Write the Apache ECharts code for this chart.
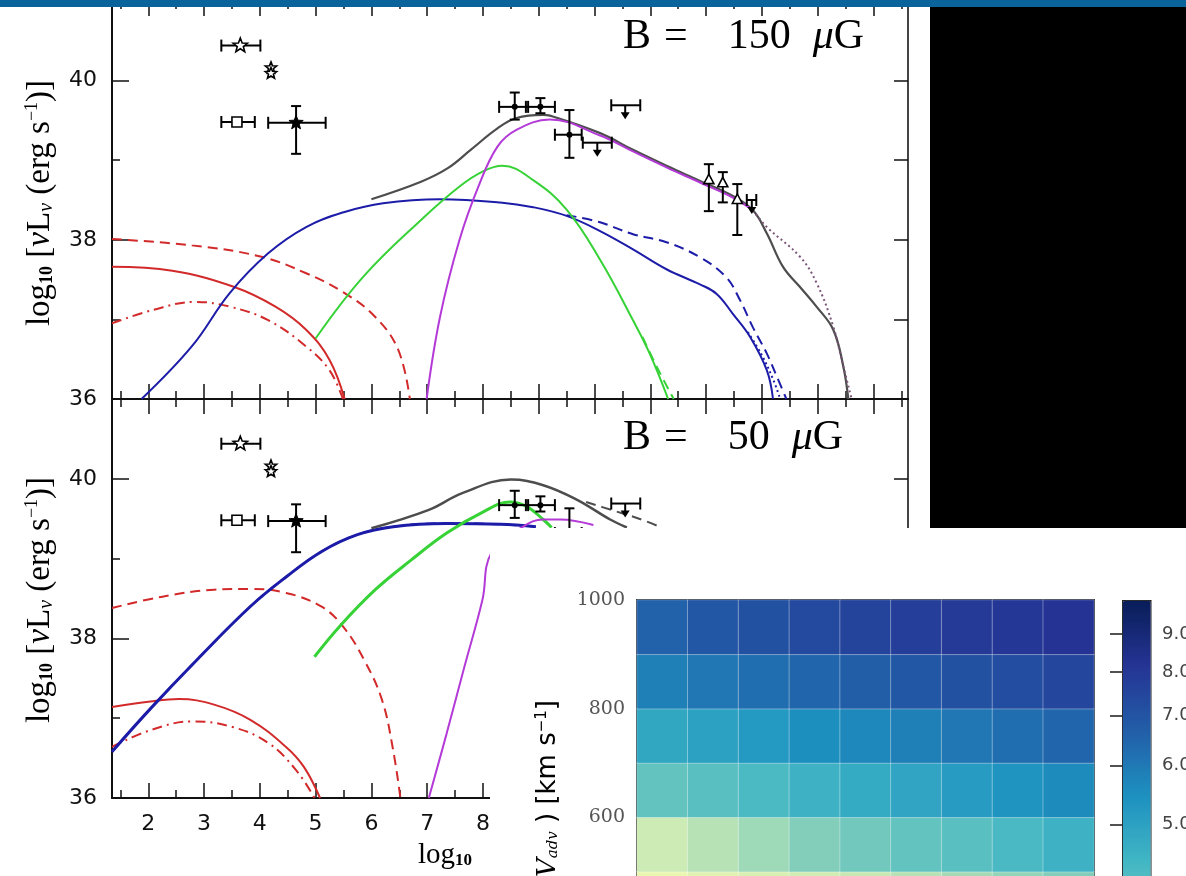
<!DOCTYPE html>
<html><head><meta charset="utf-8">
<script src="https://cdn.jsdelivr.net/npm/echarts@6/dist/echarts.min.js"></script>
<style>
html,body{margin:0;padding:0;width:1186px;height:876px;overflow:hidden;background:#fff}
#wrap{position:relative;width:1186px;height:876px;overflow:hidden}
#main{position:absolute;left:0;top:0;width:1186px;height:876px}
#inset{position:absolute;left:490px;top:528px;width:696px;height:620px;background:#fff}
</style></head><body>
<div id="wrap"><div id="main"></div><div id="inset"></div></div>
<script>
// ---------------- axis data ----------------
const XMIN = 1.35, XMAX = 15.62;
const XMAJOR = [2,3,4,5,6,7,8,9,10,11,12,13,14,15];
const XMINOR = [1.5,2.5,3.5,4.5,5.5,6.5,7.5,8.5,9.5,10.5,11.5,12.5,13.5,14.5,15.5];
const XLABELS = [2,3,4,5,6,7,8,9,10,11,12,13,14,15];
const YMIN = 36, YMAX = 41;
const YMAJOR = [36,38,40];
const YMINOR = [37,39];

// ---------------- observed points (same in both panels) ----------------
const ptX   = [3.65, 4.20, 4.20, 3.59, 4.65, 8.57, 9.03, 9.55, 10.05, 10.55, 12.05, 12.30, 12.56, 12.82];
const ptY   = [40.44,40.16,40.09,39.48,39.47,39.67,39.67,39.32,39.22, 39.69, 38.75, 38.71, 38.50, 38.50];
const ptXlo = [3.31, null, null, 3.31, 4.15, 8.29, 8.77, 9.29, 9.79, 10.30, null, null, null, 12.73];
const ptXhi = [4.01, null, null, 3.91, 5.18, 8.81, 9.29, 9.77, 10.31, 10.82, null, null, null, 12.90];
const ptYlo = [null, null, null, null, 39.08,39.51,39.59,39.03, null, null, 38.36, 38.47, 38.06, null];
const ptYhi = [null, null, null, null, 39.68,39.85,39.78,39.63, null, null, 38.95, 38.85, 38.70, null];
const ptKind = ['star','sstar','sstar','square','fstar','dot','dot','dot','ul','ul','tri','tri','tri','ul'];

// ---------------- model curves, B = 150 uG ----------------
const redSolid150 = [[1.35,37.66],[2.43,37.61],[3.53,37.41],[4.28,37.16],[4.83,36.87],[5.25,36.49],[5.52,36.0]];
const redDash150 = [[1.35,38.01],[2.78,37.93],[4.01,37.79],[4.83,37.58],[5.52,37.33],[6.07,37.03],[6.48,36.62],[6.69,36.0]];
const redDashDot150 = [[1.35,36.95],[2.09,37.12],[2.84,37.22],[3.46,37.16],[4.15,36.99],[4.83,36.66],[5.25,36.36],[5.49,36.0]];
const blue150 = [[1.88,36.0],[2.78,36.66],[3.46,37.33],[4.15,37.83],[4.83,38.16],[5.52,38.35],[6.21,38.46],[7.23,38.51],[8.31,38.47],[8.90,38.41],[9.50,38.30],[10.10,38.11],[10.69,37.88],[11.29,37.63],[11.89,37.44],[12.19,37.32],[12.48,37.07],[12.79,36.78],[13.09,36.36],[13.20,36.0]];
const blueDash150 = [[9.50,38.31],[10.10,38.22],[10.69,38.07],[11.29,37.97],[11.89,37.78],[12.36,37.53],[12.61,37.24],[12.84,36.90],[13.09,36.57],[13.27,36.28],[13.44,36.0]];
const blueDot150 = [[12.75,36.84],[13.0,36.55],[13.2,36.25],[13.33,36.0]];
const green150 = [[5.0,36.76],[5.86,37.54],[6.89,38.25],[7.58,38.67],[8.0,38.86],[8.35,38.93],[8.90,38.75],[9.50,38.38],[10.10,37.75],[10.69,36.99],[10.99,36.57],[11.32,36.0]];
const greenDash150 = [[10.86,36.78],[11.12,36.40],[11.42,36.0]];
const purple150 = [[6.99,36.0],[7.23,37.03],[7.58,38.0],[7.92,38.67],[8.26,39.17],[8.60,39.38],[9.20,39.51],[10.10,39.31],[10.69,39.11],[11.29,38.91],[11.89,38.72],[12.48,38.53],[12.84,38.37]];
const purpleDot150 = [[12.84,38.37],[13.09,38.16],[13.68,37.79],[13.98,37.46],[14.28,36.91],[14.46,36.41],[14.61,36.0]];
const gray150 = [[6.0,38.51],[6.89,38.73],[7.37,38.90],[7.78,39.13],[8.26,39.40],[8.60,39.53],[9.08,39.57],[9.20,39.56],[10.10,39.34],[10.69,39.13],[11.29,38.93],[11.89,38.74],[12.48,38.55],[12.84,38.37],[13.09,38.08],[13.38,37.66],[13.68,37.41],[13.98,37.16],[14.28,36.87],[14.46,36.41],[14.55,36.0]];

// ---------------- model curves, B = 50 uG ----------------
const redDash50 = [[1.35,38.38],[2.23,38.52],[3.18,38.61],[3.83,38.62],[4.47,38.57],[5.10,38.40],[5.49,38.15],[5.87,37.73],[6.19,37.23],[6.39,36.60],[6.52,36.0]];
const redSolid50 = [[1.35,37.14],[2.04,37.21],[2.55,37.24],[3.18,37.17],[3.83,36.98],[4.47,36.64],[4.79,36.39],[5.08,36.0]];
const redDashDot50 = [[1.35,36.64],[2.04,36.85],[2.80,36.96],[3.51,36.89],[4.15,36.69],[4.65,36.35],[4.98,36.0]];
const blue50 = [[1.35,36.58],[2.04,37.12],[2.87,37.73],[3.83,38.40],[4.47,38.77],[5.11,39.09],[5.75,39.30],[6.39,39.40],[7.35,39.44],[8.31,39.43],[8.95,39.40]];
const green50 = [[4.98,37.77],[5.43,38.15],[6.07,38.61],[6.71,38.98],[7.35,39.32],[7.99,39.58],[8.49,39.71],[8.79,39.65],[9.08,39.49],[9.23,39.39]];
const purple50 = [[7.03,36.0],[7.35,36.81],[7.67,37.65],[7.99,38.48],[8.15,39.07],[8.72,39.40],[9.08,39.49],[9.38,39.49],[9.98,39.42]];
const gray50 = [[6.0,39.38],[7.03,39.61],[7.63,39.82],[8.50,39.99],[9.08,39.92],[9.68,39.74],[10.28,39.49],[10.58,39.39]];
const grayDash50 = [[9.85,39.71],[10.30,39.61],[10.80,39.50],[11.20,39.39]];

// ---------------- inset heat map ----------------
const hmCols = ['1','2','3','4','5','6','7','8','9'];
const hmRows = ['400','500','600','700','800','900'];   // lower edge of each row [km/s]
const hm400 = [2.48,2.60,2.72,2.85,3.00,3.14,3.30,3.46,3.63];
const hm500 = [2.90,3.14,3.35,3.63,3.81,4.00,4.13,4.35,4.56];
const hm600 = [4.00,4.13,4.31,4.56,4.77,4.92,5.17,5.38,5.60];
const hm700 = [4.85,5.00,5.25,5.51,5.69,5.88,6.07,6.27,6.47];
const hm800 = [5.88,6.07,6.27,6.47,6.69,6.90,7.13,7.25,7.49];
const hm900 = [6.58,6.90,7.13,7.37,7.61,7.80,7.93,8.05,8.18];
const hmYTicks = [600,800,1000];
const cbTicks = [5,6,7,8,9];
const CB_MIN = 2, CB_MAX = 10;
const YLGNBU = ['#ffffd9','#edf8b1','#c7e9b4','#7fcdbb','#41b6c4','#1d91c0','#225ea8','#253494','#081d58'];

// ================= main SED chart =================
const AX = '#111';
function xAxes(gi, labels){
  const base = {gridIndex:gi, type:'value', min:XMIN, max:XMAX, splitLine:{show:false}};
  return [
    Object.assign({}, base, {position:'bottom', axisLine:{show:true,onZero:false,lineStyle:{color:AX,width:2}},
      axisTick:{inside:true,length:15,customValues:XMAJOR,lineStyle:{color:AX,width:1.5}},
      axisLabel:labels?{show:true,customValues:XLABELS,fontFamily:'DejaVu Sans',fontSize:22,color:'#111',margin:15}:{show:false}}),
    Object.assign({}, base, {position:'bottom', axisLine:{show:false},
      axisTick:{inside:true,length:8,customValues:XMINOR,lineStyle:{color:AX,width:1.5}}, axisLabel:{show:false}}),
    Object.assign({}, base, {position:'top', axisLine:{show:true,onZero:false,lineStyle:{color:AX,width:2}},
      axisTick:{inside:true,length:15,customValues:XMAJOR,lineStyle:{color:AX,width:1.5}}, axisLabel:{show:false}}),
    Object.assign({}, base, {position:'top', axisLine:{show:false},
      axisTick:{inside:true,length:8,customValues:XMINOR,lineStyle:{color:AX,width:1.5}}, axisLabel:{show:false}})
  ];
}
function yAxes(gi){
  const base = {gridIndex:gi, type:'value', min:YMIN, max:YMAX, splitLine:{show:false}};
  return [
    Object.assign({}, base, {position:'left', axisLine:{show:true,onZero:false,lineStyle:{color:AX,width:2}},
      axisTick:{inside:true,length:17,customValues:YMAJOR,lineStyle:{color:AX,width:1.5}},
      axisLabel:{show:true,customValues:YMAJOR,fontFamily:'DejaVu Sans',fontSize:22,color:'#111',margin:15}}),
    Object.assign({}, base, {position:'left', axisLine:{show:false},
      axisTick:{inside:true,length:8,customValues:YMINOR,lineStyle:{color:AX,width:1.5}}, axisLabel:{show:false}}),
    Object.assign({}, base, {position:'right', axisLine:{show:true,onZero:false,lineStyle:{color:'#444',width:2}},
      axisTick:{inside:true,length:14,customValues:YMAJOR,lineStyle:{color:AX,width:1.5}}, axisLabel:{show:false}}),
    Object.assign({}, base, {position:'right', axisLine:{show:false},
      axisTick:{inside:true,length:14,customValues:YMINOR,lineStyle:{color:AX,width:1.5}}, axisLabel:{show:false}})
  ];
}
const DASH = [10,6], DASHDOT = [10,5,2,5], DOT = [2,3];
function ln(data, color, type, width, panel){
  return {type:'line', data:data, xAxisIndex:panel*4, yAxisIndex:panel*4, showSymbol:false, symbol:'none',
    smooth:0.4, clip:true, silent:true, z:3,
    lineStyle:{color:color, width:width, type:type}};
}
const RED='#d22a2a', BLUE='#1c1ca8', GREEN='#36d236', PURPLE='#b43ad8', GRAY='#4d4d4d', PDOT='#7b5478';

function starPts(cx, cy, R, r){
  const p=[]; for(let k=0;k<10;k++){ const a=-Math.PI/2+k*Math.PI/5; const rr=(k%2)?r:R; p.push([cx+rr*Math.cos(a), cy+rr*Math.sin(a)]); } return p;
}
function renderPts(params, api){
  const i = api.value(2);
  const c = api.coord([ptX[i], ptY[i]]);
  const ch = [];
  const ls = {stroke:'#000', lineWidth:2};
  if (ptXlo[i] != null){
    const a = api.coord([ptXlo[i], ptY[i]]), b = api.coord([ptXhi[i], ptY[i]]);
    ch.push({type:'line', shape:{x1:a[0],y1:a[1],x2:b[0],y2:b[1]}, style:ls});
    ch.push({type:'line', shape:{x1:a[0],y1:a[1]-6,x2:a[0],y2:a[1]+6}, style:ls});
    ch.push({type:'line', shape:{x1:b[0],y1:b[1]-6,x2:b[0],y2:b[1]+6}, style:ls});
  }
  if (ptYlo[i] != null){
    const a = api.coord([ptX[i], ptYlo[i]]), b = api.coord([ptX[i], ptYhi[i]]);
    ch.push({type:'line', shape:{x1:a[0],y1:a[1],x2:b[0],y2:b[1]}, style:ls});
    ch.push({type:'line', shape:{x1:a[0]-5,y1:a[1],x2:a[0]+5,y2:a[1]}, style:ls});
    ch.push({type:'line', shape:{x1:b[0]-5,y1:b[1],x2:b[0]+5,y2:b[1]}, style:ls});
  }
  const k = ptKind[i];
  if (k==='star') ch.push({type:'polygon', shape:{points:starPts(c[0],c[1],7.5,3.2)}, style:{fill:'#fff',stroke:'#000',lineWidth:1.6}});
  if (k==='sstar') ch.push({type:'polygon', shape:{points:starPts(c[0],c[1],6,2.6)}, style:{fill:'#fff',stroke:'#000',lineWidth:1.6}});
  if (k==='fstar') ch.push({type:'polygon', shape:{points:starPts(c[0],c[1],7.5,3.2)}, style:{fill:'#000',stroke:'#000',lineWidth:1}});
  if (k==='square') ch.push({type:'rect', shape:{x:c[0]-5,y:c[1]-5,width:10,height:10}, style:{fill:'#fff',stroke:'#000',lineWidth:1.6}});
  if (k==='dot') ch.push({type:'circle', shape:{cx:c[0],cy:c[1],r:3}, style:{fill:'#000'}});
  if (k==='tri') ch.push({type:'polygon', shape:{points:[[c[0],c[1]-6],[c[0]+5,c[1]+3.5],[c[0]-5,c[1]+3.5]]}, style:{fill:'#fff',stroke:'#000',lineWidth:1.6}});
  if (k==='ul'){
    ch.push({type:'line', shape:{x1:c[0],y1:c[1],x2:c[0],y2:c[1]+10}, style:ls});
    ch.push({type:'polygon', shape:{points:[[c[0]-4.5,c[1]+7],[c[0]+4.5,c[1]+7],[c[0],c[1]+14]]}, style:{fill:'#000'}});
  }
  return {type:'group', children:ch};
}
function ptsSeries(panel){
  return {type:'custom', coordinateSystem:'cartesian2d', xAxisIndex:panel*4, yAxisIndex:panel*4,
    data: ptX.map((x,i)=>[x, ptY[i], i]), encode:{x:0,y:1}, renderItem:renderPts, silent:true, z:5, clip:false};
}

const yTitle = '{a|log}{b|10}{a| [}{i|ν}{a|L}{c|ν}{a| (erg s}{d|−1}{a|)]}';
const yTitleRich = {
  a:{fontFamily:'Liberation Serif',fontSize:33,color:'#111'},
  i:{fontFamily:'Liberation Serif',fontStyle:'italic',fontSize:33,color:'#111'},
  b:{fontFamily:'Liberation Serif',fontSize:18,fontWeight:'bold',color:'#111',verticalAlign:'bottom'},
  c:{fontFamily:'Liberation Serif',fontStyle:'italic',fontSize:20,color:'#111',verticalAlign:'bottom'},
  d:{fontFamily:'Liberation Serif',fontSize:18,color:'#111',verticalAlign:'top'}
};
const xTitleRich = {
  a:{fontFamily:'Liberation Serif',fontSize:29,color:'#111'},
  b:{fontFamily:'Liberation Serif',fontSize:17,fontWeight:'bold',color:'#111',verticalAlign:'bottom'}
};
const bRich = {
  t:{fontFamily:'Liberation Serif',fontSize:42,color:'#111'},
  i:{fontFamily:'Liberation Serif',fontStyle:'italic',fontSize:42,color:'#111'},
  s1:{width:13}, s2:{width:40}, s3:{width:22}
};

const main = echarts.init(document.getElementById('main'));
main.setOption({
  animation:false,
  backgroundColor:'#fff',
  grid:[{left:112, top:1, width:796, height:398, outerBoundsMode:'none'}, {left:112, top:399, width:796, height:399, outerBoundsMode:'none'}],
  xAxis: xAxes(0,false).concat(xAxes(1,true)),
  yAxis: yAxes(0).concat(yAxes(1)),
  series:[
    ln(redSolid150, RED, 'solid', 2, 0),
    ln(redDash150, RED, DASH, 2, 0),
    ln(redDashDot150, RED, DASHDOT, 2, 0),
    ln(blue150, BLUE, 'solid', 2, 0),
    ln(blueDash150, BLUE, DASH, 2, 0),
    ln(blueDot150, BLUE, DOT, 2, 0),
    ln(green150, GREEN, 'solid', 2, 0),
    ln(greenDash150, GREEN, DASH, 2, 0),
    ln(gray150, GRAY, 'solid', 2.2, 0),
    ln(purple150, PURPLE, 'solid', 2, 0),
    ln(purpleDot150, PDOT, DOT, 2, 0),
    ptsSeries(0),
    ln(redSolid50, RED, 'solid', 2, 1),
    ln(redDash50, RED, DASH, 2, 1),
    ln(redDashDot50, RED, DASHDOT, 2, 1),
    ln(blue50, BLUE, 'solid', 3, 1),
    ln(blue50, BLUE, DASH, 2, 1),
    ln(green50, GREEN, 'solid', 3, 1),
    ln(purple50, PURPLE, 'solid', 2, 1),
    ln(gray50, GRAY, 'solid', 2.5, 1),
    ln(grayDash50, GRAY, DASH, 2, 1),
    ptsSeries(1)
  ],
  graphic:[
    {type:'rect', shape:{x:0,y:0,width:1186,height:7}, style:{fill:'#0a639b'}, z:100},
    {type:'rect', shape:{x:930,y:7,width:256,height:521}, style:{fill:'#000'}, z:100},
    {type:'text', x:623, y:37, z:50, style:{text:'{t|B}{s1|}{t|=}{s2|}{t|150}{s3|}{i|μ}{t|G}', rich:bRich, align:'left', verticalAlign:'middle'}},
    {type:'text', x:623, y:438, z:50, style:{text:'{t|B}{s1|}{t|=}{s2|}{t|50}{s3|}{i|μ}{t|G}', rich:bRich, align:'left', verticalAlign:'middle'}},
    {type:'text', x:40, y:203, rotation:Math.PI/2, z:50, style:{text:yTitle, rich:yTitleRich, align:'center', verticalAlign:'middle'}},
    {type:'text', x:40, y:600, rotation:Math.PI/2, z:50, style:{text:yTitle, rich:yTitleRich, align:'center', verticalAlign:'middle'}},
    {type:'text', x:418, y:855, z:50, style:{text:'{a|log}{b|10}{a|    [E (eV)]}', rich:xTitleRich, align:'left', verticalAlign:'middle'}}
  ]
});

// ================= inset heat map =================
const hmAll = [hm400, hm500, hm600, hm700, hm800, hm900];
const hmData = [];
hmAll.forEach((row, r) => row.forEach((v, c) => hmData.push([c, r, Math.log10(v)])));
const LMIN = Math.log10(CB_MIN), LMAX = Math.log10(CB_MAX);
const INK = '#1a1a1a';
const inset = echarts.init(document.getElementById('inset'));
inset.setOption({
  animation:false,
  backgroundColor:'#fff',
  grid:[{left:147, top:72, width:457, height:326, outerBoundsMode:'none'}, {left:632, top:72, width:28, height:521, outerBoundsMode:'none'}],
  xAxis:[
    {gridIndex:0, type:'category', data:hmCols, show:false},
    {gridIndex:0, type:'value', min:0, max:9, position:'top', splitLine:{show:false},
      axisLine:{show:true,onZero:false,lineStyle:{color:INK,width:2}},
      axisTick:{inside:true,length:6,customValues:[1,2,3,4,5,6,7,8],lineStyle:{color:INK,width:1.5}}, axisLabel:{show:false}},
    {gridIndex:1, type:'value', show:false}
  ],
  yAxis:[
    {gridIndex:0, type:'category', data:hmRows, show:false},
    {gridIndex:0, type:'value', min:400, max:1000, position:'left', splitLine:{show:false},
      axisLine:{show:true,onZero:false,lineStyle:{color:INK,width:2}},
      axisTick:{inside:true,length:6,customValues:[600,800],lineStyle:{color:INK,width:1.5}},
      axisLabel:{customValues:hmYTicks, formatter:v=>String(v), fontFamily:'DejaVu Serif', fontSize:19, color:'#555', margin:12}},
    {gridIndex:0, type:'value', min:400, max:1000, position:'right', splitLine:{show:false},
      axisLine:{show:true,onZero:false,lineStyle:{color:INK,width:2}},
      axisTick:{inside:true,length:6,customValues:[600,800],lineStyle:{color:INK,width:1.5}}, axisLabel:{show:false}},
    {gridIndex:1, type:'value', min:LMIN, max:LMAX, position:'right', splitLine:{show:false},
      axisLine:{show:false},
      axisTick:{inside:true,length:12,customValues:cbTicks.map(Math.log10),lineStyle:{color:INK,width:1.5}},
      axisLabel:{customValues:cbTicks.map(Math.log10), formatter:v=>Math.pow(10,v).toFixed(1), fontFamily:'DejaVu Sans', fontSize:18, color:'#444', margin:12}}
  ],
  visualMap:{type:'continuous', min:LMIN, max:LMAX, dimension:2, seriesIndex:0, orient:'vertical',
    left:632, top:72, itemWidth:28, itemHeight:521, padding:0, calculable:false, hoverLink:false,
    inRange:{color:YLGNBU}, borderColor:'#222', borderWidth:1.5},
  series:[{type:'heatmap', xAxisIndex:0, yAxisIndex:0, data:hmData, silent:true,
    itemStyle:{borderColor:'rgba(255,255,255,0.35)', borderWidth:1}}],
  graphic:[
    {type:'text', x:58, y:172, rotation:Math.PI/2, z:50, style:{
      text:'{a|(}{i|V}{s|adv}{a| ) [km s}{p|−1}{a|]}', align:'right', verticalAlign:'middle',
      rich:{a:{fontFamily:'DejaVu Sans',fontSize:26,color:'#555'},
            i:{fontFamily:'DejaVu Serif',fontStyle:'italic',fontSize:26,color:'#555'},
            s:{fontFamily:'DejaVu Serif',fontStyle:'italic',fontSize:15,color:'#555',verticalAlign:'bottom'},
            p:{fontFamily:'DejaVu Sans',fontSize:15,color:'#555',verticalAlign:'top'}}}}
  ]
});
</script>
</body></html>
